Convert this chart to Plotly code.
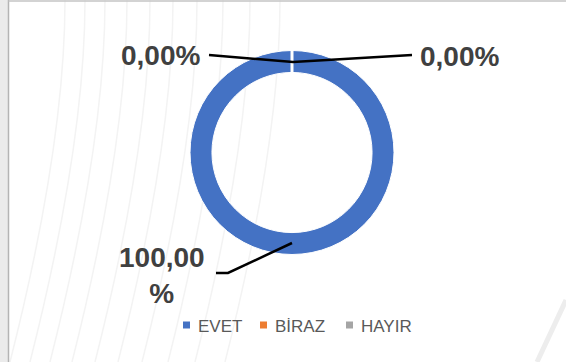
import plotly.graph_objects as go

# Survey answers and their shares (percent)
categories = ["EVET", "BİRAZ", "HAYIR"]
shares = [100.0, 0.0, 0.0]
colors = ["#4472C4", "#ED7D31", "#A5A5A5"]

W, H = 566, 362


def px(x, y):
    """Pixel position (from top-left) to paper coordinates."""
    return x / W, 1 - y / H


def fmt(v):
    return f"{v:.2f}".replace(".", ",") + "%"


# donut geometry in pixels
cx, cy, r_out = 292, 152.5, 102
hole = 0.785

fig = go.Figure()
fig.add_trace(go.Pie(
    labels=categories,
    values=shares,
    marker=dict(colors=colors, line=dict(color="white", width=1)),
    hole=hole,
    sort=False,
    direction="clockwise",
    rotation=0,
    textinfo="none",
    showlegend=False,
    domain=dict(x=[(cx - r_out) / W, (cx + r_out) / W],
                y=[1 - (cy + r_out) / H, 1 - (cy - r_out) / H]),
))

shapes = []

# slide backdrop strip and chart frame
shapes.append(dict(type="rect", xref="paper", yref="paper", x0=0, x1=8 / W, y0=0, y1=1,
                   fillcolor="#ebebeb", line=dict(width=0), layer="below"))
# faint decorative strokes: slanted at the bottom, upright near the top
for x0 in [10, 30, 50, 72, 95, 118, 142, 168, 195, 225]:
    ax, ay = px(x0, H)
    bx, by = px(x0 + 55, H * 0.4)
    ex, ey = px(x0 + 55, 0)
    shapes.append(dict(type="path", xref="paper", yref="paper",
                       path=f"M {ax},{ay} Q {bx},{by} {ex},{ey}",
                       line=dict(color="#f3f3f3", width=1.5), layer="below"))
# light stroke at the lower right corner
a1, b1 = px(537, H)
a2, b2 = px(566, 300)
shapes.append(dict(type="line", xref="paper", yref="paper", x0=a1, y0=b1, x1=a2, y1=b2,
                   line=dict(color="#ededed", width=5), layer="below"))
x0p, _ = px(8.5, 0)
shapes.append(dict(type="line", xref="paper", yref="paper", x0=x0p, x1=x0p, y0=0, y1=1,
                   line=dict(color="#b4b4b4", width=1.5)))
_, ytop = px(0, 1)
shapes.append(dict(type="line", xref="paper", yref="paper", x0=x0p, x1=1, y0=ytop, y1=ytop,
                   line=dict(color="#c4c4c4", width=1.5)))

# thin separator where the zero-share slices sit (12 o'clock)
gx, gy0 = px(cx, cy - r_out - 1)
_, gy1 = px(cx, cy - r_out * hole + 1)
shapes.append(dict(type="line", xref="paper", yref="paper", x0=gx, x1=gx, y0=gy0, y1=gy1,
                   line=dict(color="white", width=3)))


def leader(points):
    pts = [px(x, y) for x, y in points]
    path = "M " + " L ".join(f"{a},{b}" for a, b in pts)
    shapes.append(dict(type="path", xref="paper", yref="paper", path=path,
                       line=dict(color="black", width=2.5)))


leader([(209, 55), (293, 62), (412, 55)])
leader([(292, 243), (228, 273), (216, 273)])

label_font = dict(family="Liberation Sans, Arial, sans-serif", size=28, color="#404040")
annotations = []


def label(text, x, y, xanchor="center"):
    ax, ay = px(x, y)
    annotations.append(dict(text=f"<b>{text}</b>", x=ax, y=ay, xref="paper", yref="paper",
                            xanchor=xanchor, yanchor="middle", showarrow=False,
                            font=label_font, align="center"))


# data labels
label(fmt(shares[2]), 160, 55)
label(fmt(shares[1]), 459, 57)
txt = fmt(shares[0])
label(txt[:-1] + "<br>" + txt[-1], 162, 275)

# legend drawn by hand: square swatch + name
legend_font = dict(family="Liberation Sans, Arial, sans-serif", size=17, color="#595959")
legend_x = [183, 260, 346]
legend_y = 325
for name, col, lx in zip(categories, colors, legend_x):
    sx0, sy0 = px(lx, legend_y - 3.5)
    sx1, sy1 = px(lx + 7, legend_y + 3.5)
    shapes.append(dict(type="rect", xref="paper", yref="paper", x0=sx0, x1=sx1, y0=sy1, y1=sy0,
                       fillcolor=col, line=dict(width=0)))
    tx, ty = px(lx + 13, legend_y + 1)
    annotations.append(dict(text=name, x=tx, y=ty, xref="paper", yref="paper",
                            xanchor="left", yanchor="middle", showarrow=False,
                            font=legend_font))

fig.update_layout(
    width=W, height=H,
    margin=dict(l=0, r=0, t=0, b=0),
    paper_bgcolor="white",
    plot_bgcolor="white",
    shapes=shapes,
    annotations=annotations,
    showlegend=False,
)

fig.write_html("out.html")
